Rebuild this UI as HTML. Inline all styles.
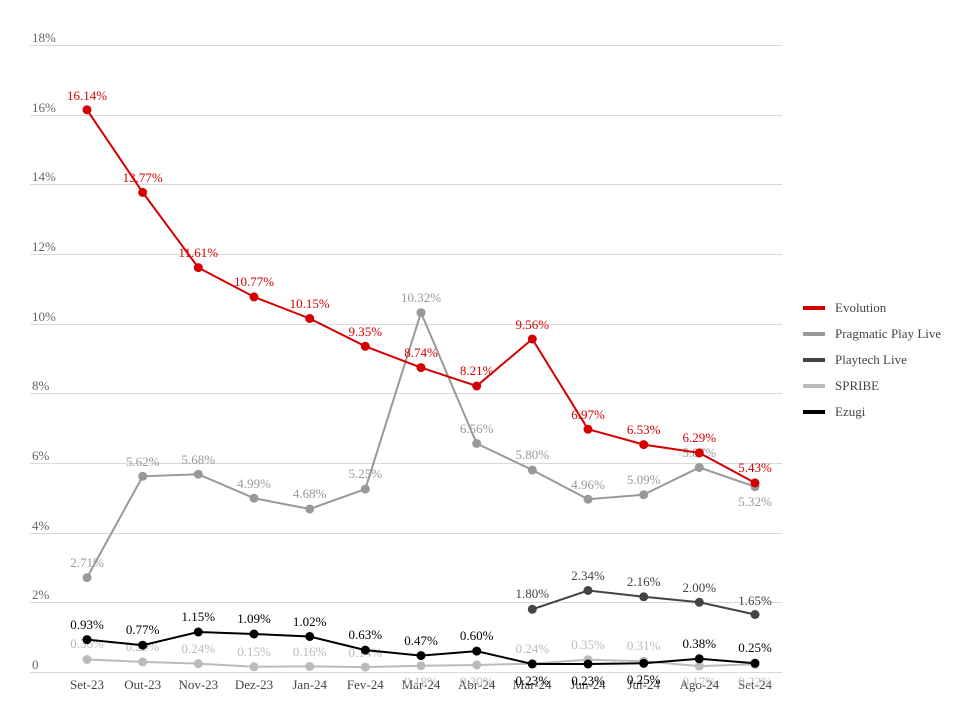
<!DOCTYPE html>
<html><head><meta charset="utf-8"><style>body{margin:0;background:#fff}svg{display:block}text{font-family:"Liberation Serif",serif;font-size:13px}circle{r:4.5px}</style></head><body>
<svg width="966" height="721" xmlns="http://www.w3.org/2000/svg">
<g stroke="#d9d9d9" stroke-width="1">
<line x1="30" x2="782" y1="45.5" y2="45.5"/><line x1="30" x2="782" y1="115.5" y2="115.5"/><line x1="30" x2="782" y1="184.5" y2="184.5"/><line x1="30" x2="782" y1="254.5" y2="254.5"/><line x1="30" x2="782" y1="324.5" y2="324.5"/><line x1="30" x2="782" y1="393.5" y2="393.5"/><line x1="30" x2="782" y1="463.5" y2="463.5"/><line x1="30" x2="782" y1="533.5" y2="533.5"/><line x1="30" x2="782" y1="602.5" y2="602.5"/><line x1="30" x2="782" y1="672.5" y2="672.5"/>
</g>
<g fill="#666">
<text x="32" y="42">18%</text><text x="32" y="112">16%</text><text x="32" y="181">14%</text><text x="32" y="251">12%</text><text x="32" y="321">10%</text><text x="32" y="390">8%</text><text x="32" y="460">6%</text><text x="32" y="530">4%</text><text x="32" y="599">2%</text><text x="32" y="669">0</text>
</g>
<g fill="#444" text-anchor="middle">
<text x="87" y="689">Set-23</text><text x="142.7" y="689">Out-23</text><text x="198.3" y="689">Nov-23</text><text x="254" y="689">Dez-23</text><text x="309.7" y="689">Jan-24</text><text x="365.3" y="689">Fev-24</text><text x="421" y="689">Mar-24</text><text x="476.7" y="689">Abr-24</text><text x="532.3" y="689">Mar-24</text><text x="588" y="689">Jun-24</text><text x="643.7" y="689">Jul-24</text><text x="699.3" y="689">Ago-24</text><text x="755" y="689">Set-24</text>
</g>
<polyline fill="none" stroke="#bbb" stroke-width="2" points="87,659.5 142.7,661.9 198.3,663.6 254,666.8 309.7,666.4 365.3,667.1 421,665.7 476.7,665 532.3,663.6 588,659.8 643.7,661.2 699.3,666.1 755,664.3"/>
<g fill="#bbb"><circle cx="87" cy="659.5" r="4.5"/><circle cx="142.7" cy="661.9" r="4.5"/><circle cx="198.3" cy="663.6" r="4.5"/><circle cx="254" cy="666.8" r="4.5"/><circle cx="309.7" cy="666.4" r="4.5"/><circle cx="365.3" cy="667.1" r="4.5"/><circle cx="421" cy="665.7" r="4.5"/><circle cx="476.7" cy="665" r="4.5"/><circle cx="532.3" cy="663.6" r="4.5"/><circle cx="588" cy="659.8" r="4.5"/><circle cx="643.7" cy="661.2" r="4.5"/><circle cx="699.3" cy="666.1" r="4.5"/><circle cx="755" cy="664.3" r="4.5"/></g>
<g fill="#bbb" text-anchor="middle"><text x="87" y="648">0.36%</text><text x="142.7" y="651">0.29%</text><text x="198.3" y="653">0.24%</text><text x="254" y="656">0.15%</text><text x="309.7" y="656">0.16%</text><text x="365.3" y="657">0.14%</text><text x="421" y="686">0.18%</text><text x="476.7" y="686">0.20%</text><text x="532.3" y="653">0.24%</text><text x="588" y="649">0.35%</text><text x="643.7" y="650">0.31%</text><text x="699.3" y="686">0.17%</text><text x="755" y="686">0.22%</text></g>
<polyline fill="none" stroke="#999" stroke-width="2" points="87,577.6 142.7,476.3 198.3,474.2 254,498.2 309.7,509 365.3,489.1 421,312.6 476.7,443.5 532.3,470 588,499.2 643.7,494.7 699.3,467.5 755,486.7"/>
<g fill="#999"><circle cx="87" cy="577.6" r="4.5"/><circle cx="142.7" cy="476.3" r="4.5"/><circle cx="198.3" cy="474.2" r="4.5"/><circle cx="254" cy="498.2" r="4.5"/><circle cx="309.7" cy="509" r="4.5"/><circle cx="365.3" cy="489.1" r="4.5"/><circle cx="421" cy="312.6" r="4.5"/><circle cx="476.7" cy="443.5" r="4.5"/><circle cx="532.3" cy="470" r="4.5"/><circle cx="588" cy="499.2" r="4.5"/><circle cx="643.7" cy="494.7" r="4.5"/><circle cx="699.3" cy="467.5" r="4.5"/><circle cx="755" cy="486.7" r="4.5"/></g>
<g fill="#999" text-anchor="middle"><text x="87" y="567">2.71%</text><text x="142.7" y="466">5.62%</text><text x="198.3" y="464">5.68%</text><text x="254" y="488">4.99%</text><text x="309.7" y="498">4.68%</text><text x="365.3" y="478">5.25%</text><text x="421" y="302">10.32%</text><text x="476.7" y="433">6.56%</text><text x="532.3" y="459">5.80%</text><text x="588" y="489">4.96%</text><text x="643.7" y="484">5.09%</text><text x="699.3" y="457">5.87%</text><text x="755" y="506">5.32%</text></g>
<polyline fill="none" stroke="#d40000" stroke-width="2" points="87,109.8 142.7,192.4 198.3,267.6 254,296.9 309.7,318.5 365.3,346.3 421,367.6 476.7,386 532.3,339 588,429.2 643.7,444.6 699.3,452.9 755,482.9"/>
<g fill="#d40000"><circle cx="87" cy="109.8" r="4.5"/><circle cx="142.7" cy="192.4" r="4.5"/><circle cx="198.3" cy="267.6" r="4.5"/><circle cx="254" cy="296.9" r="4.5"/><circle cx="309.7" cy="318.5" r="4.5"/><circle cx="365.3" cy="346.3" r="4.5"/><circle cx="421" cy="367.6" r="4.5"/><circle cx="476.7" cy="386" r="4.5"/><circle cx="532.3" cy="339" r="4.5"/><circle cx="588" cy="429.2" r="4.5"/><circle cx="643.7" cy="444.6" r="4.5"/><circle cx="699.3" cy="452.9" r="4.5"/><circle cx="755" cy="482.9" r="4.5"/></g>
<g fill="#d40000" text-anchor="middle"><text x="87" y="100">16.14%</text><text x="142.7" y="182">13.77%</text><text x="198.3" y="257">11.61%</text><text x="254" y="286">10.77%</text><text x="309.7" y="308">10.15%</text><text x="365.3" y="336">9.35%</text><text x="421" y="357">8.74%</text><text x="476.7" y="375">8.21%</text><text x="532.3" y="329">9.56%</text><text x="588" y="419">6.97%</text><text x="643.7" y="434">6.53%</text><text x="699.3" y="442">6.29%</text><text x="755" y="472">5.43%</text></g>
<polyline fill="none" stroke="#444" stroke-width="2" points="532.3,609.3 588,590.5 643.7,596.8 699.3,602.3 755,614.5"/>
<g fill="#444"><circle cx="532.3" cy="609.3" r="4.5"/><circle cx="588" cy="590.5" r="4.5"/><circle cx="643.7" cy="596.8" r="4.5"/><circle cx="699.3" cy="602.3" r="4.5"/><circle cx="755" cy="614.5" r="4.5"/></g>
<g fill="#444" text-anchor="middle"><text x="532.3" y="598">1.80%</text><text x="588" y="580">2.34%</text><text x="643.7" y="586">2.16%</text><text x="699.3" y="592">2.00%</text><text x="755" y="605">1.65%</text></g>
<polyline fill="none" stroke="#000" stroke-width="2" points="87,639.6 142.7,645.2 198.3,632 254,634 309.7,636.5 365.3,650.1 421,655.6 476.7,651.1 532.3,664 588,664 643.7,663.3 699.3,658.8 755,663.3"/>
<g fill="#000"><circle cx="87" cy="639.6" r="4.5"/><circle cx="142.7" cy="645.2" r="4.5"/><circle cx="198.3" cy="632" r="4.5"/><circle cx="254" cy="634" r="4.5"/><circle cx="309.7" cy="636.5" r="4.5"/><circle cx="365.3" cy="650.1" r="4.5"/><circle cx="421" cy="655.6" r="4.5"/><circle cx="476.7" cy="651.1" r="4.5"/><circle cx="532.3" cy="664" r="4.5"/><circle cx="588" cy="664" r="4.5"/><circle cx="643.7" cy="663.3" r="4.5"/><circle cx="699.3" cy="658.8" r="4.5"/><circle cx="755" cy="663.3" r="4.5"/></g>
<g fill="#000" text-anchor="middle"><text x="87" y="629">0.93%</text><text x="142.7" y="634">0.77%</text><text x="198.3" y="621">1.15%</text><text x="254" y="623">1.09%</text><text x="309.7" y="626">1.02%</text><text x="365.3" y="639">0.63%</text><text x="421" y="645">0.47%</text><text x="476.7" y="640">0.60%</text><text x="532.3" y="685">0.23%</text><text x="588" y="685">0.23%</text><text x="643.7" y="684">0.25%</text><text x="699.3" y="648">0.38%</text><text x="755" y="652">0.25%</text></g>
<g stroke-width="4"><line x1="803" x2="825" y1="308" y2="308" stroke="#d40000"/><line x1="803" x2="825" y1="334" y2="334" stroke="#999"/><line x1="803" x2="825" y1="360" y2="360" stroke="#444"/><line x1="803" x2="825" y1="386" y2="386" stroke="#bbb"/><line x1="803" x2="825" y1="412" y2="412" stroke="#000"/></g>
<g fill="#444" font-size="12"><text x="835" y="312">Evolution</text><text x="835" y="338">Pragmatic Play Live</text><text x="835" y="364">Playtech Live</text><text x="835" y="390">SPRIBE</text><text x="835" y="416">Ezugi</text></g>
</svg>
</body></html>
